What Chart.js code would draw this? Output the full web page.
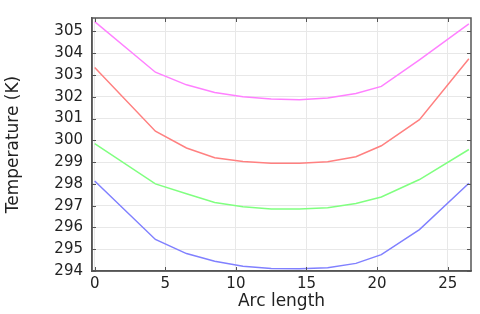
<!DOCTYPE html>
<html>
<head>
<meta charset="utf-8">
<script src="https://cdn.jsdelivr.net/npm/chart.js@4/dist/chart.umd.min.js"></script>
<style>
  html, body { margin: 0; padding: 0; background: #fff; }
  canvas { display: block; }
</style>
</head>
<body>
<canvas id="chart" width="480" height="314"></canvas>
<script>
// arc length positions (shared by all curves)
const arcLength = [0, 4.3, 6.5, 8.5, 10.5, 12.5, 14.5, 16.5, 18.5, 20.3, 23, 26.5];

// temperatures, K
const tMagenta = [305.45, 303.13, 302.55, 302.2, 302.0, 301.9, 301.87, 301.95, 302.15, 302.48, 303.7, 305.35];
const tRed     = [303.35, 300.42, 299.65, 299.2, 299.03, 298.95, 298.95, 299.02, 299.25, 299.75, 300.95, 303.75];
const tGreen   = [299.85, 298.0, 297.55, 297.15, 296.95, 296.85, 296.85, 296.9, 297.1, 297.4, 298.2, 299.58];
const tBlue    = [298.13, 295.45, 294.8, 294.45, 294.22, 294.12, 294.1, 294.15, 294.35, 294.75, 295.9, 298.03];

const xTicks = [0, 5, 10, 15, 20, 25];
const yTicks = [294, 295, 296, 297, 298, 299, 300, 301, 302, 303, 304, 305];

const toPoints = (ys) => arcLength.map((x, i) => ({x: x, y: ys[i]}));

const line = (ys, color) => ({
    data: toPoints(ys),
    borderColor: color,
    borderWidth: 1.5,
    pointRadius: 0,
    tension: 0,
    fill: false
});

const frameColor = '#555555';

// frame on top/right plus short inward ticks on all sides
const framePlugin = {
    id: 'framePlugin',
    afterDraw(chart) {
        const {ctx, chartArea: a, scales: {x, y}} = chart;
        const len = 4;
        ctx.save();
        ctx.strokeStyle = frameColor;
        ctx.lineWidth = 1.5;
        ctx.strokeRect(a.left, a.top, a.right - a.left, a.bottom - a.top);
        ctx.lineWidth = 1;
        ctx.beginPath();
        x.ticks.forEach(t => {
            const px = Math.round(x.getPixelForValue(t.value)) + 0.5;
            ctx.moveTo(px, a.bottom); ctx.lineTo(px, a.bottom - len);
            ctx.moveTo(px, a.top); ctx.lineTo(px, a.top + len);
        });
        y.ticks.forEach(t => {
            const py = Math.round(y.getPixelForValue(t.value)) + 0.5;
            ctx.moveTo(a.left, py); ctx.lineTo(a.left + len, py);
            ctx.moveTo(a.right, py); ctx.lineTo(a.right - len, py);
        });
        ctx.stroke();
        ctx.restore();
    }
};

const font = {family: "'DejaVu Sans', sans-serif", size: 15};
const titleFont = {family: "'DejaVu Sans', sans-serif", size: 17};

new Chart(document.getElementById('chart'), {
    type: 'line',
    data: {
        datasets: [
            line(tMagenta, '#ff80ff'),
            line(tRed, '#ff8080'),
            line(tGreen, '#80ff80'),
            line(tBlue, '#8080ff')
        ]
    },
    options: {
        responsive: false,
        animation: false,
        layout: {padding: {left: 0, right: 9, top: 11, bottom: 0}},
        plugins: {legend: {display: false}, tooltip: {enabled: false}},
        scales: {
            x: {
                type: 'linear',
                min: -0.19,
                max: 26.65,
                afterBuildTicks: (s) => { s.ticks = xTicks.map(v => ({value: v})); },
                afterFit: (s) => { s.height = 43; },
                grid: {color: '#e8e8e8', drawTicks: false},
                border: {color: frameColor, width: 1.5},
                ticks: {color: '#222', font: font, padding: 4, maxRotation: 0},
                title: {display: true, text: 'Arc length', color: '#222', font: titleFont, padding: {top: 0, bottom: 2}}
            },
            y: {
                type: 'linear',
                min: 294,
                max: 305.62,
                afterBuildTicks: (s) => { s.ticks = yTicks.map(v => ({value: v})); },
                afterFit: (s) => { s.width = 92; },
                grid: {color: '#e8e8e8', drawTicks: false},
                border: {color: frameColor, width: 1.5},
                ticks: {color: '#222', font: font, padding: 9},
                title: {display: true, text: 'Temperature (K)', color: '#222', font: titleFont, padding: {top: 3, bottom: 0}}
            }
        }
    },
    plugins: [framePlugin]
});
</script>
</body>
</html>
